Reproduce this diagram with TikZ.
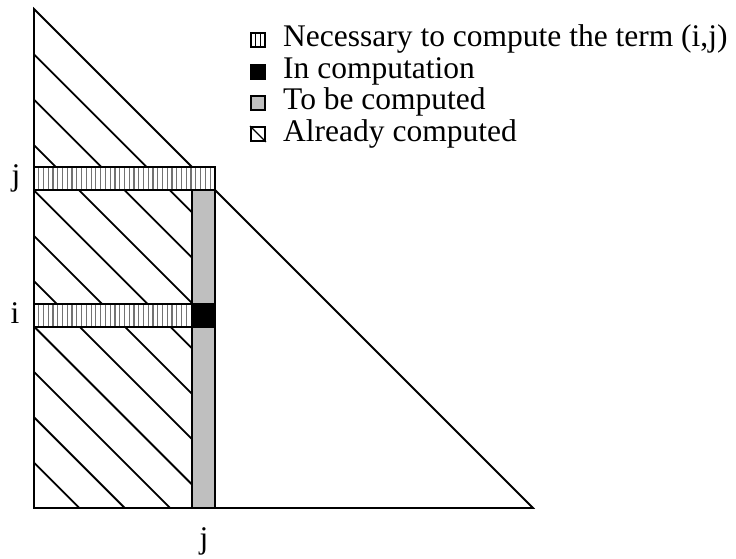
\documentclass[tikz,border=0pt]{standalone}
\usepackage{fontspec}
\setmainfont{Liberation Serif}
\tikzset{
  outl/.style={line width=1.8pt, line join=miter},
  hatch/.style={line width=1.8pt},
  stripe/.style={draw=black!55, line width=1.2pt},
  lbl/.style={font=\fontsize{31.5}{36}\selectfont, inner sep=0pt},
  legbox/.style={draw, line width=1.8pt, minimum size=14pt, inner sep=0pt}
}
\begin{document}
\begin{tikzpicture}[x=1pt,y=-1pt]
\useasboundingbox[fill=white] (0,0) rectangle (736,559);
% outline triangle
\draw[outl] (34,9) -- (34,508) -- (533,508) -- cycle;
% hatching
\begin{scope}
  \clip (34,9) -- (34,167) -- (192,167) -- cycle
        (34,190) rectangle (192,304)
        (34,327) rectangle (192,508);
  \foreach \k in {1,...,11}{
    \draw[hatch] (34,{9+45.36*\k}) -- ++(500,500);
  }
\end{scope}
% gray column
\draw[outl, fill=black!25] (192,190) rectangle (215,508);
% j bar
\draw[outl, fill=white] (34,167) rectangle (215,190);
\foreach \n in {1,...,37}{ \draw[stripe] ({34+4.76*\n},168) -- ({34+4.76*\n},189); }
\draw[outl] (34,167) rectangle (215,190);
% i bar
\draw[outl, fill=white] (34,304) rectangle (192,327);
\foreach \n in {1,...,32}{ \draw[stripe] ({34+4.76*\n},305) -- ({34+4.76*\n},326); }
\draw[outl] (34,304) rectangle (192,327);
\draw[outl, fill=black] (192,304) rectangle (215,327);
% labels
\node[lbl, anchor=base] (lj) at (16,185) {j};
\node[lbl, anchor=base] (li) at (15,323) {i};
\node[lbl, anchor=base] (bj) at (204,548) {j};
% legend
\node[legbox] (s1) at (258,40) {};
\draw[line width=1.4pt] ([xshift=-2.3pt]s1.north) -- ([xshift=-2.3pt]s1.south)
      ([xshift=2.3pt]s1.north) -- ([xshift=2.3pt]s1.south);
\node[legbox, fill=black] (s2) at (258,72) {};
\node[legbox, fill=black!25] (s3) at (258,103) {};
\node[legbox] (s4) at (258,134) {};
\draw[line width=1.4pt] (s4.north west) -- (s4.south east);
\node[lbl, anchor=base west] (t1) at (283,47) {Necessary to compute the term (i,j)};
\node[lbl, anchor=base west] (t2) at (283,78.5) {In computation};
\node[lbl, anchor=base west] (t3) at (283,110) {To be computed};
\node[lbl, anchor=base west] (t4) at (283,141.5) {Already computed};
\end{tikzpicture}
\end{document}
